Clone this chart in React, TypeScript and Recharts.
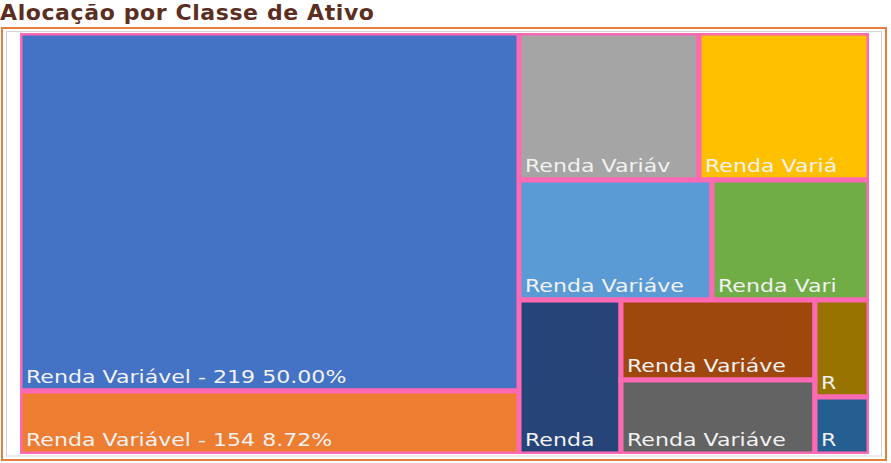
import React from 'react';
import { Treemap } from 'recharts';

const chartTitle = 'Alocação por Classe de Ativo';

// labels exactly as they show in the boxes (Excel cuts them to fit)
const cellLabels = [
  'Renda Variável - 219 50.00%',
  'Renda Variável - 154 8.72%',
  'Renda Variáv',
  'Renda Variá',
  'Renda Variáve',
  'Renda Vari',
  'Renda',
  'Renda Variáve',
  'Renda Variáve',
  'R',
  'R',
];
// share of the portfolio, %
const cellShares = [50.0, 8.72, 7.41, 7.01, 6.49, 5.25, 4.41, 4.35, 4.04, 1.46, 0.86];
const cellColors = [
  '#4472C4', '#ED7D31', '#A5A5A5', '#FFC000', '#5B9BD5', '#70AD47',
  '#264478', '#9E480E', '#636363', '#997300', '#255E91',
];

const leaf = (i: number) => ({ name: cellLabels[i], size: cellShares[i], tone: cellColors[i] });
const group = (...children: any[]) => ({ children });

// the two big positions sit in their own block on the left
const leftIdx = [0, 1];
const leftData = leftIdx.map(leaf);
const rightData = [
  leaf(2),
  leaf(3),
  group(
    group(leaf(4), leaf(5)),
    group(leaf(6), group(leaf(7), leaf(8)), group(leaf(9), leaf(10))),
  ),
];

const MAP_X = 20;
const MAP_Y = 33;
const MAP_W = 849;
const MAP_H = 421;
const BORDER = '#FF69B4';

const total = cellShares.reduce((a, b) => a + b, 0);
const leftShare = leftIdx.reduce((a, i) => a + cellShares[i], 0);
const leftW = Math.round((MAP_W * leftShare) / total);

const Cell = (props: any) => {
  const { x, y, width, height, name, tone, children } = props;
  if (children && children.length) return <g />;
  return (
    <g>
      <rect x={x} y={y} width={width} height={height} fill={tone} stroke={BORDER} strokeWidth={5} />
      <text
        transform={`translate(${x + 6},${y + height - 8}) scale(1.3,1)`}
        fontFamily="DejaVu Sans"
        fontSize={17}
        fill="#F2F2F2"
      >
        {name}
      </text>
    </g>
  );
};

export default function App() {
  return (
    <div style={{ position: 'absolute', left: 0, top: 0, width: 891, height: 463, background: '#fff' }}>
      <div
        style={{
          position: 'absolute',
          left: 0,
          top: 0,
          fontFamily: 'DejaVu Sans',
          fontWeight: 700,
          fontSize: 22,
          letterSpacing: 0.6,
          color: '#5C2E1F',
          whiteSpace: 'nowrap',
        }}
      >
        {chartTitle}
      </div>
      <svg width={891} height={463} style={{ position: 'absolute', left: 0, top: 0 }}>
        <rect x={2} y={28} width={884} height={432} fill="none" stroke="#E2803E" strokeWidth={2} />
        <rect x={6.5} y={31.5} width={875} height={424.5} fill="none" stroke="#D6D3D3" strokeWidth={1} />
      </svg>
      <div style={{ position: 'absolute', left: MAP_X, top: MAP_Y }}>
        <Treemap
          width={leftW}
          height={MAP_H}
          data={leftData}
          dataKey="size"
          aspectRatio={4}
          isAnimationActive={false}
          content={Cell}
        />
      </div>
      <div style={{ position: 'absolute', left: MAP_X + leftW, top: MAP_Y }}>
        <Treemap
          width={MAP_W - leftW}
          height={MAP_H}
          data={rightData}
          dataKey="size"
          isAnimationActive={false}
          content={Cell}
        />
      </div>
    </div>
  );
}
